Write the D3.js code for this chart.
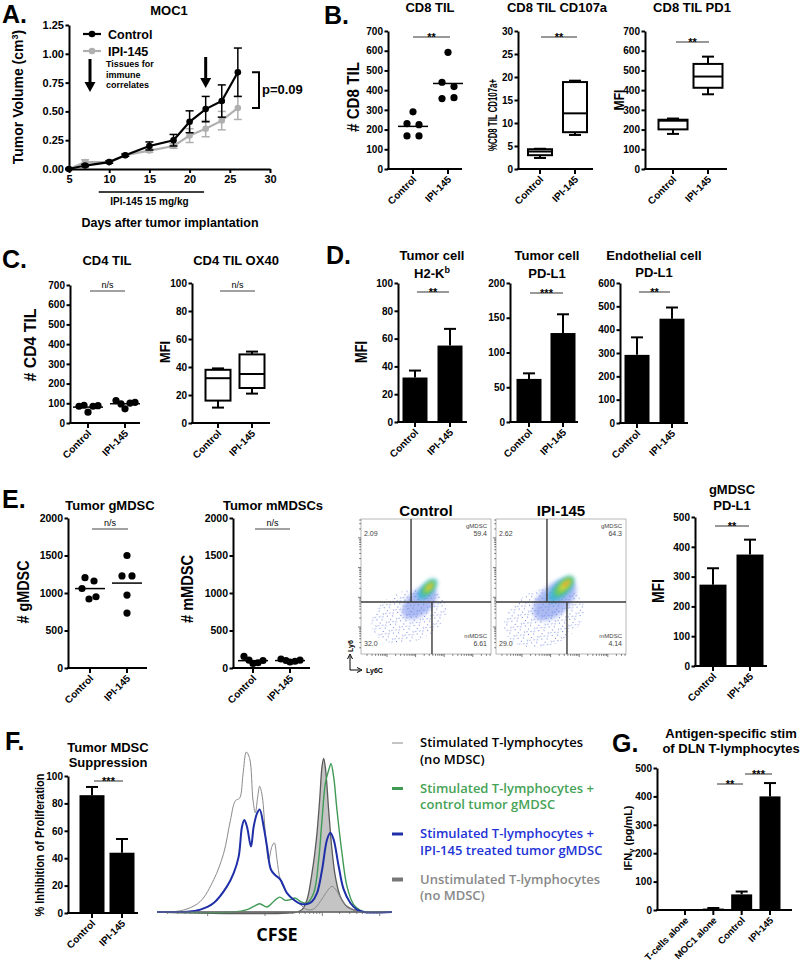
<!DOCTYPE html>
<html><head><meta charset="utf-8">
<script src="https://cdn.jsdelivr.net/npm/d3@7"></script>
<style>
body{margin:0;background:#fff}
svg{display:block}
text{font-family:"Liberation Sans",Arial,sans-serif;fill:#000}
</style></head><body>
<svg id="fig" width="800" height="967"></svg>
<script>
// ---------------- DATA ----------------
const tumorDays = [5,7,10,12,15,18,20,22,24,26];
const tumorControl = [0.00,0.03,0.06,0.12,0.20,0.25,0.41,0.52,0.59,0.84];
const tumorControlSem = [0.005,0.01,0.01,0.01,0.035,0.05,0.095,0.11,0.14,0.21];
const tumorIpi = [0.00,0.06,0.06,0.12,0.16,0.20,0.29,0.35,0.42,0.53];
const tumorIpiSem = [0.01,0.02,0.01,0.01,0.015,0.02,0.06,0.07,0.08,0.10];
const tumorXTicks = [5,10,15,20,25,30];
const tumorYTicks = [0,0.25,0.5,0.75,1.0,1.25];

const groups = ["Control","IPI-145"];
const cd8TilControl = [290,230,225,168,168];
const cd8TilIpi = [592,440,418,357,362];
const cd107aControlBox = [2.4,3.0,3.8,4.3,4.4];   // min,q1,median,q3,max
const cd107aIpiBox = [7.4,8.0,12.1,18.9,19.2];
const pd1ControlBox = [178,201,245,250,256];
const pd1IpiBox = [379,412,469,533,570];

const cd4TilControl = [85,90,55,85,88];
const cd4TilIpi = [114,97,72,101,105];
const ox40ControlBox = [11,16,32,38,39];
const ox40IpiBox = [21,25,35,49,51];

const h2kbMean = [32,55], h2kbSem = [5,12];
const tumorPdl1Mean = [62,128], tumorPdl1Sem = [8,27];
const endoPdl1Mean = [292,447], endoPdl1Sem = [75,48];

const gmdscControl = [1205,1160,1060,950,920];
const gmdscIpi = [1500,1228,1228,973,732];
const mmdscControl = [155,105,60,70,100];
const mmdscIpi = [120,100,80,90,105];
const gmdscPdl1Mean = [273,374], gmdscPdl1Sem = [55,50];

const flowControlQuad = ["2.09","59.4","32.0","6.61"];
const flowIpiQuad = ["2.62","64.3","29.0","4.14"];
const flowControlGate = [0.385,0.546,0.385];
const flowIpiGate = [0.392,0.546,0.385];
// density regions: [Ly6C, Ly6, spreadX, spreadY, angle, level]
const flowControlDensity = [[0.37,0.28,0.30,0.19,-20,0],[0.45,0.38,0.16,0.09,-42,1],[0.51,0.48,0.10,0.045,-48,2],[0.52,0.49,0.07,0.03,-48,3],[0.525,0.495,0.04,0.016,-48,4],[0.53,0.50,0.015,0.008,-48,5]];
const flowIpiDensity = [[0.37,0.27,0.32,0.21,-20,0],[0.45,0.40,0.20,0.11,-42,1],[0.50,0.48,0.13,0.055,-45,2],[0.52,0.50,0.095,0.038,-45,3],[0.53,0.51,0.06,0.022,-45,4],[0.54,0.52,0.025,0.01,-45,5]];

const suppressionMean = [86,44], suppressionSem = [6,10];

const cfseStimulated = [[0,0],[50,0.2],[90,1.9],[130,6.6],[170,20.1],[200,36.7],[220,57.1],[235,69.5],[248,71.2],[258,86.1],[268,100],[278,95.9],[288,69.9],[295,62.0],[302,71.8],[308,78.6],[316,72.0],[325,49.4],[335,32.8],[345,41.1],[352,43.2],[360,32.8],[370,20.3],[390,11.8],[410,7.7],[430,4.6],[450,1.5],[470,1.9],[490,6.6],[510,12.9],[525,16.0],[540,12.9],[560,5.6],[590,1.5],[620,0],[705,0]];
const cfseControlMdsc = [[0,0],[230,0],[270,1.5],[290,3.5],[308,5.2],[330,3.1],[350,6.6],[368,9.3],[385,7.3],[400,7.7],[415,8.7],[430,6.6],[450,5.6],[470,11.8],[485,32.6],[495,57.5],[505,80.3],[515,88.6],[522,92.7],[530,84.4],[540,63.6],[555,36.7],[570,16.0],[590,4.6],[610,1.0],[630,0],[705,0]];
const cfseIpiMdsc = [[0,0],[90,0.2],[130,1.5],[170,5.6],[210,16.0],[230,24.3],[245,34.6],[255,53.3],[262,57.5],[270,53.3],[282,40.9],[290,53.3],[300,61.6],[308,64.1],[320,53.3],[330,40.9],[342,26.4],[355,23.0],[370,20.3],[390,11.8],[410,7.7],[430,5.2],[450,5.0],[465,6.6],[480,11.8],[495,26.1],[510,45.2],[520,49.6],[530,45.2],[545,28.6],[560,14.1],[580,5.6],[600,1.5],[620,0],[705,0]];
const cfseUnstimulated = [[0,0],[420,0],[435,1.5],[450,7.7],[465,24.3],[478,45.2],[488,70.1],[495,90.8],[500,96.0],[506,88.6],[515,63.6],[525,38.8],[535,22.2],[550,9.7],[570,3.5],[600,0.8],[630,0],[705,0]];
const cfseLegend = [["Stimulated T-lymphocytes","(no MDSC)"],["Stimulated T-lymphocytes +","control tumor gMDSC"],["Stimulated T-lymphocytes +","IPI-145 treated tumor gMDSC"],["Unstimulated T-lymphocytes","(no MDSC)"]];

const ifngCats = ["T-cells alone","MOC1 alone","Control","IPI-145"];
const ifngMean = [2,5,55,400], ifngSem = [0,2,10,47];

// ---------------- HELPERS ----------------
const svg = d3.select("#fig");
const defs = svg.append("defs");
const intFmt = d3.format("d");

function letter(t,x,y){
  svg.append("text").attr("x",x).attr("y",y).attr("font-size",25).attr("font-weight","bold").text(t);
}
function title(lines,x,y,size=13,lh=16){
  const t = svg.append("text").attr("x",x).attr("y",y).attr("text-anchor","middle")
    .attr("font-size",size).attr("font-weight","bold");
  lines.forEach((l,i)=>{
    const ts = t.append("tspan").attr("x",x).attr("dy",i?lh:0);
    if (typeof l === "string") ts.text(l); else l(ts);
  });
}
function yAxis(g,scale,x,ticks,fmt,fs=10){
  const ax = d3.axisLeft(scale).tickValues(ticks).tickSize(3.5).tickSizeOuter(0).tickPadding(1.5).tickFormat(fmt||intFmt);
  const a = g.append("g").attr("transform",`translate(${x},0)`).call(ax);
  a.select(".domain").attr("stroke","#000").attr("stroke-width",2);
  a.selectAll(".tick line").attr("stroke","#000").attr("stroke-width",2);
  a.selectAll(".tick text").attr("font-size",fs).attr("font-weight","bold")
    .style("font-family",'"Liberation Sans",Arial,sans-serif').attr("fill","#000");
  return a;
}
function sig(g,x1,x2,y,txt,ns){
  g.append("line").attr("x1",x1).attr("x2",x2).attr("y1",y).attr("y2",y)
    .attr("stroke",ns?"#444":"#333").attr("stroke-width",1);
  g.append("text").attr("x",(x1+x2)/2).attr("y",ns?y-3:y+4).attr("text-anchor","middle")
    .attr("font-size",ns?9:11).attr("font-weight",ns?"normal":"bold").text(txt);
}
function catFrame(o){
  const g = svg.append("g");
  const y = d3.scaleLinear().domain(o.domain).range([o.y0,o.yTop]);
  const x = d3.scalePoint().domain(o.cats).range(o.catRange);
  yAxis(g,y,o.axisX,o.ticks,o.fmt,o.tickFont||10);
  g.append("line").attr("x1",o.axisX-1).attr("x2",o.xEnd).attr("y1",o.y0).attr("y2",o.y0)
    .attr("stroke","#000").attr("stroke-width",2);
  o.cats.forEach(c=>{
    g.append("line").attr("x1",x(c)).attr("x2",x(c)).attr("y1",o.y0).attr("y2",o.y0+5)
      .attr("stroke","#000").attr("stroke-width",2);
    g.append("text").attr("transform",`translate(${x(c)+4},${o.y0+11}) rotate(-45)`)
      .attr("text-anchor","end").attr("font-size",o.catFont||10).attr("font-weight","bold").text(c);
  });
  if (o.ylabel){
    const L = o.ylabel;
    const t = g.append("text").attr("transform",`translate(${L.x},${L.cy!==undefined?L.cy:(o.y0+o.yTop)/2}) rotate(-90)`)
      .attr("text-anchor","middle").attr("font-size",L.size).attr("font-weight",L.weight||"bold");
    if (L.build) L.build(t); else t.text(L.text);
    if (L.len) t.attr("textLength",L.len).attr("lengthAdjust","spacingAndGlyphs");
  }
  return {g,x,y,y0:o.y0};
}
function scatterMarks(f,cat,vals,offs){
  vals.forEach((v,i)=>f.g.append("circle").attr("cx",f.x(cat)+offs[i]).attr("cy",f.y(v)).attr("r",3.6).attr("fill","#000"));
  const m = d3.mean(vals);
  f.g.append("line").attr("x1",f.x(cat)-15).attr("x2",f.x(cat)+15).attr("y1",f.y(m)).attr("y2",f.y(m))
    .attr("stroke","#000").attr("stroke-width",1.5);
}
function boxMarks(f,cat,b,w=26){
  const cx = f.x(cat), g = f.g;
  const ln = (x1,y1,x2,y2)=>g.append("line").attr("x1",x1).attr("x2",x2).attr("y1",y1).attr("y2",y2).attr("stroke","#000").attr("stroke-width",2);
  ln(cx,f.y(b[4]),cx,f.y(b[3])); ln(cx,f.y(b[0]),cx,f.y(b[1]));
  ln(cx-6,f.y(b[4]),cx+6,f.y(b[4])); ln(cx-6,f.y(b[0]),cx+6,f.y(b[0]));
  g.append("rect").attr("x",cx-w/2).attr("y",f.y(b[3])).attr("width",w).attr("height",f.y(b[1])-f.y(b[3]))
    .attr("fill","#fff").attr("stroke","#000").attr("stroke-width",2);
  ln(cx-w/2,f.y(b[2]),cx+w/2,f.y(b[2]));
}
function barMarks(f,cat,v,e,w=25){
  const cx = f.x(cat), g = f.g;
  if (e>0){
    g.append("line").attr("x1",cx).attr("x2",cx).attr("y1",f.y(v)).attr("y2",f.y(v+e)).attr("stroke","#000").attr("stroke-width",2);
    g.append("line").attr("x1",cx-6).attr("x2",cx+6).attr("y1",f.y(v+e)).attr("y2",f.y(v+e)).attr("stroke","#000").attr("stroke-width",2);
  }
  g.append("rect").attr("x",cx-w/2).attr("y",f.y(v)).attr("width",w).attr("height",Math.max(1.5,f.y0-f.y(v))).attr("fill","#000");
}
const off5 = [0,-6,6,-6,6];
const offDense = [-9,-4,0,5,10];

// ---------------- PANEL A ----------------
letter("A.",2,23);
title(["MOC1"],169,15);
{
  const g = svg.append("g");
  const x = d3.scaleLinear().domain([5,30]).range([69,270]);
  const y = d3.scaleLinear().domain([0,1.25]).range([169,25]);
  yAxis(g,y,69,tumorYTicks,d3.format(".2f"),11);
  const ax = g.append("g").attr("transform","translate(0,169)")
    .call(d3.axisBottom(x).tickValues(tumorXTicks).tickSize(4).tickSizeOuter(0).tickPadding(2));
  ax.select(".domain").attr("stroke","#000").attr("stroke-width",2);
  ax.selectAll(".tick line").attr("stroke","#000").attr("stroke-width",2);
  ax.selectAll(".tick text").attr("font-size",11).attr("font-weight","bold").attr("fill","#000");
  const series = [[tumorIpi,tumorIpiSem,"#b0b0b0"],[tumorControl,tumorControlSem,"#000"]];
  series.forEach(([vals,sem,col])=>{
    vals.forEach((v,i)=>{
      const cx = x(tumorDays[i]);
      g.append("line").attr("x1",cx).attr("x2",cx).attr("y1",y(v-sem[i])).attr("y2",y(v+sem[i])).attr("stroke",col).attr("stroke-width",1.5);
      [v-sem[i],v+sem[i]].forEach(e=>g.append("line").attr("x1",cx-4).attr("x2",cx+4).attr("y1",y(e)).attr("y2",y(e)).attr("stroke",col).attr("stroke-width",1.5));
    });
    g.append("path").datum(vals).attr("fill","none").attr("stroke",col).attr("stroke-width",2.2)
      .attr("d",d3.line().x((d,i)=>x(tumorDays[i])).y(d=>y(d)));
    vals.forEach((v,i)=>g.append("circle").attr("cx",x(tumorDays[i])).attr("cy",y(v)).attr("r",3.3).attr("fill",col));
  });
  const yl = g.append("text").attr("transform","translate(23,97) rotate(-90)").attr("text-anchor","middle")
    .attr("font-size",14).attr("font-weight","bold");
  yl.append("tspan").text("Tumor Volume (cm");
  yl.append("tspan").attr("dy",-5).attr("font-size",9).text("3");
  yl.append("tspan").attr("dy",5).text(")");
  [["Control","#000",34],["IPI-145","#b0b0b0",51]].forEach(([t,c,yy])=>{
    g.append("line").attr("x1",83).attr("x2",101).attr("y1",yy).attr("y2",yy).attr("stroke",c).attr("stroke-width",2.2);
    g.append("circle").attr("cx",92).attr("cy",yy).attr("r",3.3).attr("fill",c);
    g.append("text").attr("x",108).attr("y",yy+4.5).attr("font-size",12.5).attr("font-weight","bold").text(t);
  });
  const arrow = (ax0,y1,y2)=>{
    g.append("line").attr("x1",ax0).attr("x2",ax0).attr("y1",y1).attr("y2",y2-8).attr("stroke","#000").attr("stroke-width",3);
    g.append("path").attr("d",`M${ax0-5.5},${y2-10}L${ax0+5.5},${y2-10}L${ax0},${y2}Z`).attr("fill","#000");
  };
  arrow(90,59,92);
  arrow(x(22),57,88);
  ["Tissues for","immune","correlates"].forEach((t,i)=>g.append("text").attr("x",106).attr("y",67+i*10.5).attr("font-size",9).attr("font-weight","bold").text(t));
  g.append("path").attr("d",`M252,${y(0.84)}H259V${y(0.53)}H252`).attr("fill","none").attr("stroke","#000").attr("stroke-width",2);
  g.append("text").attr("x",262).attr("y",94).attr("font-size",13).attr("font-weight","bold").text("p=0.09");
  g.append("line").attr("x1",x(8.7)).attr("x2",x(21.8)).attr("y1",192).attr("y2",192).attr("stroke","#000").attr("stroke-width",1.5);
  g.append("text").attr("x",x(15)).attr("y",205).attr("text-anchor","middle").attr("font-size",10).attr("font-weight","bold").text("IPI-145 15 mg/kg");
  g.append("text").attr("x",170).attr("y",227).attr("text-anchor","middle").attr("font-size",12.5).attr("font-weight","bold").text("Days after tumor implantation");
}

// ---------------- PANEL B ----------------
letter("B.",324,24);
title(["CD8 TIL"],430,12);
title(["CD8 TIL CD107a"],557,12);
title(["CD8 TIL PD1"],692,12);
{
  const f1 = catFrame({axisX:388,xEnd:462,y0:169,yTop:31,domain:[0,700],ticks:d3.range(0,701,100),cats:groups,catRange:[413,448],
    ylabel:{text:"# CD8 TIL",x:359,size:17,len:70,cy:97}});
  scatterMarks(f1,"Control",cd8TilControl,off5);
  scatterMarks(f1,"IPI-145",cd8TilIpi,off5);
  sig(f1.g,413,450,37,"**");
  const f2 = catFrame({axisX:518,xEnd:593,y0:169,yTop:31,domain:[0,30],ticks:d3.range(0,31,5),cats:groups,catRange:[540,575],
    ylabel:{text:"%CD8 TIL CD107a+",x:497,size:13,len:72,cy:115}});
  boxMarks(f2,"Control",cd107aControlBox,24);
  boxMarks(f2,"IPI-145",cd107aIpiBox,24);
  sig(f2.g,541,577,37,"**");
  const f3 = catFrame({axisX:645,xEnd:727,y0:169,yTop:31,domain:[0,700],ticks:d3.range(0,701,100),cats:groups,catRange:[673,708],
    ylabel:{text:"MFI",x:624,size:15,len:21,cy:100}});
  boxMarks(f3,"Control",pd1ControlBox,29);
  boxMarks(f3,"IPI-145",pd1IpiBox,29);
  sig(f3.g,676,709,42,"**");
}

// ---------------- PANEL C ----------------
letter("C.",2,268);
title(["CD4 TIL"],107,265);
title(["CD4 TIL OX40"],236,265);
{
  const f1 = catFrame({axisX:70,xEnd:140,y0:423,yTop:285,domain:[0,700],ticks:d3.range(0,701,100),cats:groups,catRange:[88,125],
    ylabel:{text:"# CD4 TIL",x:36,size:16,len:73,cy:345}});
  scatterMarks(f1,"Control",cd4TilControl,offDense);
  scatterMarks(f1,"IPI-145",cd4TilIpi,offDense);
  sig(f1.g,90,125,291,"n/s",true);
  const f2 = catFrame({axisX:192,xEnd:270,y0:423,yTop:283,domain:[0,100],ticks:d3.range(0,101,20),cats:groups,catRange:[218,252],
    ylabel:{text:"MFI",x:170,size:15,len:22,cy:352}});
  boxMarks(f2,"Control",ox40ControlBox,25);
  boxMarks(f2,"IPI-145",ox40IpiBox,25);
  sig(f2.g,220,255,291,"n/s",true);
}

// ---------------- PANEL D ----------------
letter("D.",326,264);
title(["Tumor cell", ts=>{ts.text("H2-K"); ts.append("tspan").attr("dy",-5).attr("font-size",9).text("b");}],432,260,13,18);
title(["Tumor cell","PD-L1"],547,260,13,18);
title(["Endothelial cell","PD-L1"],654,260,13,17);
{
  const f1 = catFrame({axisX:398,xEnd:467,y0:422,yTop:283,domain:[0,100],ticks:d3.range(0,101,20),cats:groups,catRange:[415,450],
    ylabel:{text:"MFI",x:367,size:16,len:22,cy:352}});
  barMarks(f1,"Control",h2kbMean[0],h2kbSem[0]);
  barMarks(f1,"IPI-145",h2kbMean[1],h2kbSem[1]);
  sig(f1.g,417,449,292,"**");
  const f2 = catFrame({axisX:510,xEnd:578,y0:422,yTop:283,domain:[0,200],ticks:d3.range(0,201,50),cats:groups,catRange:[529,563]});
  barMarks(f2,"Control",tumorPdl1Mean[0],tumorPdl1Sem[0]);
  barMarks(f2,"IPI-145",tumorPdl1Mean[1],tumorPdl1Sem[1]);
  sig(f2.g,530,563,293,"***");
  const f3 = catFrame({axisX:620,xEnd:688,y0:423,yTop:283,domain:[0,600],ticks:d3.range(0,601,100),cats:groups,catRange:[637,672]});
  barMarks(f3,"Control",endoPdl1Mean[0],endoPdl1Sem[0]);
  barMarks(f3,"IPI-145",endoPdl1Mean[1],endoPdl1Sem[1]);
  sig(f3.g,639,670,292,"**");
}

// ---------------- PANEL E ----------------
letter("E.",2,508);
title(["Tumor gMDSC"],110,510);
title(["Tumor mMDSCs"],273,510);
{
  const f1 = catFrame({axisX:68,xEnd:147,y0:668,yTop:518,domain:[0,2000],ticks:d3.range(0,2001,500),cats:groups,catRange:[90,127],tickFont:10.5,
    ylabel:{text:"# gMDSC",x:29,size:16,len:63,cy:592}});
  scatterMarks(f1,"Control",gmdscControl,[-5,4,-8,6,-1]);
  scatterMarks(f1,"IPI-145",gmdscIpi,[0,-5,5,0,0]);
  sig(f1.g,92,128,529,"n/s",true);
  const f2 = catFrame({axisX:233,xEnd:310,y0:668,yTop:518,domain:[0,2000],ticks:d3.range(0,2001,500),cats:groups,catRange:[253,290],tickFont:10.5,
    ylabel:{text:"# mMDSC",x:193,size:16,len:68,cy:589}});
  scatterMarks(f2,"Control",mmdscControl,offDense);
  scatterMarks(f2,"IPI-145",mmdscIpi,offDense);
  sig(f2.g,255,290,529,"n/s",true);

  // flow plots
  const blur = defs.append("filter").attr("id","blur").attr("x","-50%").attr("y","-50%").attr("width","200%").attr("height","200%");
  blur.append("feGaussianBlur").attr("stdDeviation",2);
  const pat = defs.append("pattern").attr("id","speck").attr("width",11).attr("height",9).attr("patternUnits","userSpaceOnUse");
  [[1,1],[6,2.5],[3,5],[9,6.5],[7.5,0.2],[4.5,8],[0.5,7]].forEach(([a,b])=>pat.append("rect").attr("x",a).attr("y",b).attr("width",1).attr("height",1).attr("fill","#3a56d8"));
  const grad = defs.append("linearGradient").attr("id","axisEv");
  [["0%","#3a56d8"],["30%","#e04a2a"],["55%","#4ab0d0"],["75%","#e0c030"],["100%","#6ab0e0"]].forEach(([o,c])=>grad.append("stop").attr("offset",o).attr("stop-color",c));
  const levelColor = ["url(#speck)","#5b78e6","#2fb4d2","#72cc4c","#e2d83a","#ee7a2c"];
  const levelOpacity = [0.75,0.5,0.85,0.9,0.95,0.95];
  function flowPlot(x0,ttl,quad,gate,dens,id){
    const w=130,h=135,top=519;
    const fx = d3.scaleLinear().domain([0,1]).range([x0,x0+w]);
    const fy = d3.scaleLinear().domain([0,1]).range([top+h,top]);
    const g = svg.append("g");
    defs.append("clipPath").attr("id",id).append("rect").attr("x",x0).attr("y",top).attr("width",w).attr("height",h);
    const dg = g.append("g").attr("clip-path",`url(#${id})`);
    dens.forEach(d=>{
      dg.append("ellipse").attr("cx",0).attr("cy",0).attr("rx",d[2]*w).attr("ry",d[3]*h)
        .attr("transform",`translate(${fx(d[0])},${fy(d[1])}) rotate(${d[4]})`)
        .attr("fill",levelColor[d[5]]).attr("opacity",levelOpacity[d[5]])
        .attr("filter",d[5]===0?null:"url(#blur)");
    });
    dg.append("line").attr("x1",fx(0)).attr("x2",fx(0.97)).attr("y1",top+h-1.2).attr("y2",top+h-1.2).attr("stroke","url(#axisEv)").attr("stroke-width",2);
    g.append("rect").attr("x",x0).attr("y",top).attr("width",w).attr("height",h).attr("fill","none").attr("stroke","#b8b8b8").attr("stroke-width",1);
    const gl = (a,b,c,d)=>g.append("line").attr("x1",a).attr("x2",c).attr("y1",b).attr("y2",d).attr("stroke","#3a3a3a").attr("stroke-width",1.4);
    gl(fx(gate[0]),top,fx(gate[0]),fy(gate[2]));
    gl(fx(gate[1]),fy(gate[2]),fx(gate[1]),top+h);
    gl(x0,fy(gate[2]),x0+w,fy(gate[2]));
    const tk=[];
    for(let dd=0;dd<5;dd++) for(let m=1;m<10;m++){const p=-0.02+0.22*(dd+Math.log10(m)); if(p>0&&p<1) tk.push([p,m===1]);}
    tk.forEach(([p,maj])=>{
      g.append("line").attr("x1",fx(p)).attr("x2",fx(p)).attr("y1",top+h).attr("y2",top+h+(maj?3:1.8)).attr("stroke","#555").attr("stroke-width",0.8);
      g.append("line").attr("y1",fy(p)).attr("y2",fy(p)).attr("x1",x0).attr("x2",x0-(maj?3:1.8)).attr("stroke","#555").attr("stroke-width",0.8);
    });
    const st = (t,x,y,anchor,fs=7)=>g.append("text").attr("x",x).attr("y",y).attr("text-anchor",anchor).attr("font-size",fs).style("fill","#444").text(t);
    st(quad[0],x0+3,top+17,"start");
    st("gMDSC",x0+w-4,top+9,"end",6);
    st(quad[1],x0+w-4,top+17,"end");
    st(quad[2],x0+3,top+h-8,"start");
    st("mMDSC",x0+w-4,top+h-16,"end",6);
    st(quad[3],x0+w-4,top+h-8,"end");
    title([ttl],x0+w/2,516,15);
  }
  flowPlot(361,"Control",flowControlQuad,flowControlGate,flowControlDensity,"clipC");
  flowPlot(496,"IPI-145",flowIpiQuad,flowIpiGate,flowIpiDensity,"clipI");
  const ag = svg.append("g");
  ag.append("path").attr("d","M350,670V656M347.5,659L350,654L352.5,659M350,670H360M357,667.5L362,670L357,672.5").attr("fill","none").attr("stroke","#000").attr("stroke-width",1);
  ag.append("text").attr("transform","translate(353,652) rotate(-90)").attr("font-size",7).attr("font-weight","bold").text("Ly6");
  ag.append("text").attr("x",366).attr("y",673).attr("font-size",7).attr("font-weight","bold").text("Ly6C");

  title(["gMDSC","PD-L1"],732,494,13,16);
  const f4 = catFrame({axisX:695,xEnd:767,y0:666,yTop:517,domain:[0,500],ticks:d3.range(0,501,100),cats:groups,catRange:[713,750],
    ylabel:{text:"MFI",x:664,size:17,len:24,cy:591}});
  barMarks(f4,"Control",gmdscPdl1Mean[0],gmdscPdl1Sem[0],27);
  barMarks(f4,"IPI-145",gmdscPdl1Mean[1],gmdscPdl1Sem[1],27);
  sig(f4.g,715,749,526,"**");
}

// ---------------- PANEL F ----------------
letter("F.",5,750);
title(["Tumor MDSC","Suppression"],108,752,13,15);
{
  const f = catFrame({axisX:68,xEnd:138,y0:913,yTop:776,domain:[0,100],ticks:d3.range(0,101,20),cats:groups,catRange:[92,122],
    ylabel:{text:"% Inhibition of Proliferation",x:44,size:12,len:143,cy:845}});
  barMarks(f,"Control",suppressionMean[0],suppressionSem[0],25);
  barMarks(f,"IPI-145",suppressionMean[1],suppressionSem[1],25);
  sig(f.g,94,123,781,"***");

  const hx = d3.scaleLinear().domain([0,705]).range([157,392]);
  const hy = d3.scaleLinear().domain([0,100]).range([912,752]);
  const g = svg.append("g");
  const curve = d3.curveCatmullRom.alpha(0.5);
  g.append("path").datum(cfseUnstimulated).attr("fill","#c4c4c4").attr("stroke","#5a5a5a").attr("stroke-width",1.3)
    .attr("d",d3.area().x(d=>hx(d[0])).y0(hy(0)).y1(d=>hy(d[1])).curve(curve));
  g.append("path").datum(cfseStimulated).attr("fill","none").attr("stroke","#8a8a8a").attr("stroke-width",1)
    .attr("d",d3.line().x(d=>hx(d[0])).y(d=>hy(d[1])).curve(curve));
  g.append("path").datum(cfseControlMdsc).attr("fill","none").attr("stroke","#3f9a55").attr("stroke-width",1.4)
    .attr("d",d3.line().x(d=>hx(d[0])).y(d=>hy(d[1])).curve(curve));
  g.append("path").datum(cfseIpiMdsc).attr("fill","none").attr("stroke","#1f2fa8").attr("stroke-width",2)
    .attr("d",d3.line().x(d=>hx(d[0])).y(d=>hy(d[1])).curve(curve));
  g.append("line").attr("x1",hx(0)).attr("x2",hx(705)).attr("y1",hy(0)).attr("y2",hy(0)).attr("stroke","#7a7a7a").attr("stroke-width",1);
  for(let dd=0;dd<5;dd++) for(let m=1;m<10;m++){
    const c = -20+172*(dd+Math.log10(m));
    if (c>0 && c<705) g.append("line").attr("x1",hx(c)).attr("x2",hx(c)).attr("y1",hy(0)).attr("y2",hy(0)+(m===1?4:2)).attr("stroke","#666").attr("stroke-width",0.8);
  }
  g.append("text").attr("x",277).attr("y",941).attr("text-anchor","middle").attr("font-size",18).attr("font-weight","bold")
    .style("font-family",'"Open Sans",sans-serif').text("CFSE");
  const legCol = ["#8a8a8a","#3f9a55","#1f2fa8","#777777"];
  const legTxt = ["#000","#46a356","#1e34d6","#888888"];
  const legW = [1,3,3,4];
  cfseLegend.forEach((lines,i)=>{
    const yy = 747+i*45.5;
    g.append("line").attr("x1",392).attr("x2",403).attr("y1",yy-4).attr("y2",yy-4).attr("stroke",legCol[i]).attr("stroke-width",legW[i]);
    lines.forEach((t,j)=>g.append("text").attr("x",420).attr("y",yy+j*16.5).attr("font-size",13).attr("font-weight",600)
      .style("font-family",'"Open Sans",sans-serif').style("fill",legTxt[i]).text(t));
  });
}

// ---------------- PANEL G ----------------
letter("G.",612,752);
title(["Antigen-specific stim","of DLN T-lymphocytes"],731,738,13,15);
{
  const f = catFrame({axisX:657,xEnd:792,y0:910,yTop:768,domain:[0,500],ticks:d3.range(0,501,100),cats:ifngCats,catRange:[685,770],catFont:9.5,
    ylabel:{x:632,size:11,len:65,cy:838,build:t=>{t.append("tspan").text("IFN"); t.append("tspan").attr("dy",2).attr("font-size",8).text("γ"); t.append("tspan").attr("dy",-2).text(" (pg/mL)");}}});
  ifngCats.forEach((c,i)=>barMarks(f,c,ifngMean[i],ifngSem[i],21));
  sig(f.g,717,743,784,"**");
  sig(f.g,745,772,774,"***");
}
</script>
</body></html>
